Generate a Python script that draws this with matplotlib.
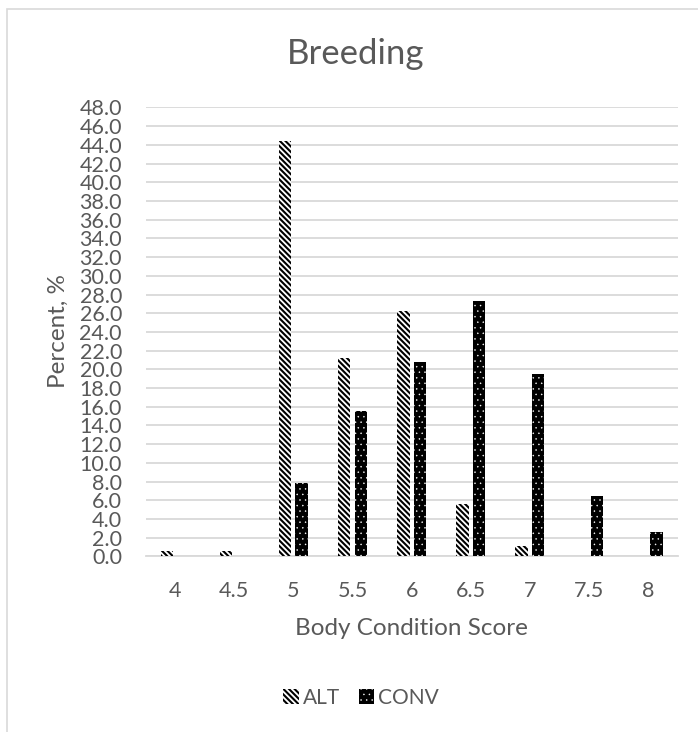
import matplotlib
matplotlib.use("Agg")
import matplotlib.pyplot as plt
import numpy as np
from matplotlib.patches import Rectangle

# Data
scores = ["4", "4.5", "5", "5.5", "6", "6.5", "7", "7.5", "8"]
alt = [0.6, 0.6, 44.4, 21.2, 26.2, 5.6, 1.1, 0.0, 0.0]
conv = [0.0, 0.0, 7.8, 15.6, 20.8, 27.3, 19.5, 6.5, 2.6]
yticks = np.arange(0, 48.1, 2.0)

TXT = "#595959"
GRID = "#d9d9d9"

plt.rcParams["font.family"] = ["Lato", "DejaVu Sans"]
plt.rcParams["hatch.linewidth"] = 1.5

fig = plt.figure(figsize=(6.98, 7.32), dpi=100)
ax = fig.add_axes([0.2086, 0.2398, 0.7622, 0.6135])

x = np.arange(len(scores))
w = 0.21
alt_bars = ax.bar(x - 0.14, alt, w, facecolor="white", edgecolor="black",
                  hatch="\\\\\\\\\\\\", linewidth=0, label="ALT", zorder=3)
conv_bars = ax.bar(x + 0.14, conv, w, facecolor="black", edgecolor="white",
                   hatch="...", linewidth=0, label="CONV", zorder=3)
for b in conv_bars:
    if hasattr(b, "set_hatch_linewidth"):
        b.set_hatch_linewidth(0.3)

ax.set_xlim(-0.5, len(scores) - 0.5)
ax.set_ylim(0, 48)
ax.set_yticks(yticks)
ax.set_yticklabels([f"{v:.1f}" for v in yticks])
ax.set_xticks(x)
ax.set_xticklabels(scores)
ax.grid(axis="y", color=GRID, linewidth=1.3, zorder=0)
ax.set_axisbelow(True)
for s in ["top", "right", "left"]:
    ax.spines[s].set_visible(False)
ax.spines["bottom"].set_color(GRID)
ax.spines["bottom"].set_linewidth(1.3)
ax.tick_params(axis="both", length=0, colors=TXT, labelsize=15.5)
ax.tick_params(axis="y", pad=17)
ax.tick_params(axis="x", pad=18)

ax.set_xlabel("Body Condition Score", fontsize=17.5, color=TXT, labelpad=12)
fig.text(58 / 698, 1 - 331 / 732, "Percent, %", rotation=90, fontsize=17.5,
         color=TXT, ha="center", va="center")
fig.text(356 / 698, 1 - 54 / 732, "Breeding", fontsize=25, color=TXT,
         ha="center", va="center")

leg = fig.legend(loc="center", bbox_to_anchor=(361 / 698, 1 - 698 / 732), ncol=2,
                 frameon=False, fontsize=15, handlelength=0.75, handleheight=0.75,
                 handletextpad=0.2, columnspacing=0.9)
for t in leg.get_texts():
    t.set_color(TXT)
for h in leg.legend_handles[1:]:
    if hasattr(h, "set_hatch_linewidth"):
        h.set_hatch_linewidth(0.3)

# chart-area frame
fig.patches.append(Rectangle((7 / 698, -0.01), 1.0, 1 - 9 / 732 + 0.01,
                             transform=fig.transFigure, fill=False,
                             edgecolor=GRID, linewidth=1.2))

fig.savefig("out.png", dpi=100)
